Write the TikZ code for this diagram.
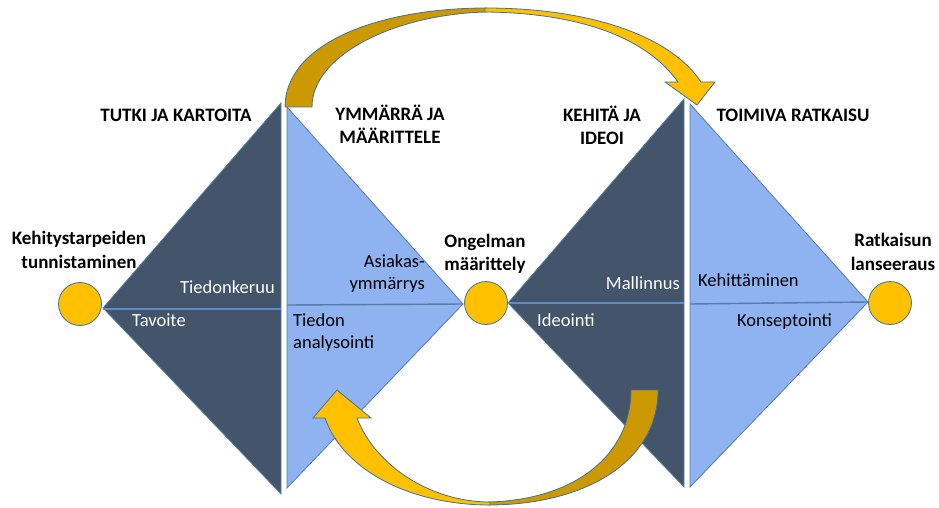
\documentclass[tikz,border=0pt]{standalone}
\usepackage{fontspec}
\setmainfont{Carlito}
\definecolor{slate}{RGB}{68,84,106}
\definecolor{sky}{RGB}{143,178,240}
\definecolor{edge}{RGB}{84,125,172}
\definecolor{splitdark}{RGB}{96,140,196}
\definecolor{gold}{RGB}{255,192,0}
\definecolor{darkgold}{RGB}{204,153,0}
\definecolor{rim}{RGB}{65,113,156}
\begin{document}
\begin{tikzpicture}[x=1pt,y=-1pt,
  darktri/.style={fill=slate,draw=edge,line width=0.8pt,line join=miter},
  lighttri/.style={fill=sky,draw=edge,line width=0.8pt,line join=miter},
  splitline/.style={draw=splitdark,line width=1.6pt},
  splitlight/.style={draw=edge,line width=1.4pt},
  milestone/.style={circle,fill=gold,draw=rim,line width=0.8pt,minimum size=43pt,inner sep=0pt},
  phase/.style={font=\bfseries\fontsize{19}{23}\selectfont,align=center,inner sep=0pt},
  stagelbl/.style={font=\bfseries\fontsize{19}{23.5}\selectfont,align=center,inner sep=0pt},
  task/.style={font=\fontsize{18.5}{22}\selectfont,inner sep=0pt},
  arrowback/.style={fill=darkgold,draw=rim,line width=0.8pt,line join=miter},
  arrowfront/.style={fill=gold,draw=rim,line width=0.8pt,line join=miter}]
\useasboundingbox (0,0) rectangle (939,508);

% triangles
\draw[darktri] (281,103) -- (281,494) -- (103,308) -- cycle;
\draw[splitline] (103,309) -- (281,309);
\draw[lighttri] (287,107) -- (287,488) -- (463,304) -- cycle;
\draw[splitlight] (287,305) -- (463,304);
\draw[darktri] (684,99) -- (684,487) -- (508,303) -- cycle;
\draw[splitline] (508,303) -- (684,303);
\draw[lighttri] (690,104) -- (690,487) -- (868,302) -- cycle;
\draw[splitlight] (690,304) -- (868,302);

% milestones
\node[milestone] (m1) at (80,304) {};
\node[milestone] (m2) at (486,303) {};
\node[milestone] (m3) at (890,303) {};

% top curved arrow
\draw[arrowback] (285,107) .. controls (285,45) and (375,8) .. (487,8)
  -- (487,12) .. controls (395,14) and (312,55) .. (312,107) -- cycle;
\draw[arrowfront] (485,8) .. controls (595,8) and (672,38) .. (701,82)
  -- (715,82) -- (697,105) -- (665,82) -- (678,82)
  .. controls (648,40) and (585,13) .. (485,12) -- cycle;

% bottom curved arrow
\draw[arrowback] (658,390) .. controls (658,462) and (585,505) .. (488,505)
  -- (488,502) .. controls (575,500) and (631,455) .. (631,390) -- cycle;
\draw[arrowfront] (490,505) .. controls (410,505) and (343,470) .. (325,418)
  -- (313,418) -- (337,390) -- (371,418) -- (357,418)
  .. controls (375,465) and (430,502) .. (490,502) -- cycle;

% phase titles
\node[phase] (p1) at (176,115) {TUTKI JA KARTOITA};
\node[phase] (p2) at (390,124) {YMMÄRRÄ JA\\MÄÄRITTELE};
\node[phase] (p3) at (602,125) {KEHITÄ JA\\IDEOI};
\node[phase] (p4) at (793,115) {TOIMIVA RATKAISU};

% milestone labels
\node[stagelbl] (s1) at (79,250) {Kehitystarpeiden\\tunnistaminen};
\node[stagelbl] (s2) at (485,254) {Ongelman\\määrittely};
\node[stagelbl] (s3) at (893,252) {Ratkaisun\\lanseeraus};

% task labels
\node[task,text=white,anchor=mid east] (t1) at (275,291) {Tiedonkeruu};
\node[task,text=white,anchor=mid west] (t2) at (132,324) {Tavoite};
\node[task,anchor=east,align=right] (t3) at (425,274) {Asiakas-\\ymmärrys};
\node[task,anchor=west,align=left] (t4) at (293,333) {Tiedon\\analysointi};
\node[task,text=white,anchor=mid east] (t5) at (680,287) {Mallinnus};
\node[task,text=white,anchor=mid west] (t6) at (537,324) {Ideointi};
\node[task,anchor=mid west] (t7) at (698,284) {Kehittäminen};
\node[task,anchor=mid west] (t8) at (737,324) {Konseptointi};
\end{tikzpicture}
\end{document}
